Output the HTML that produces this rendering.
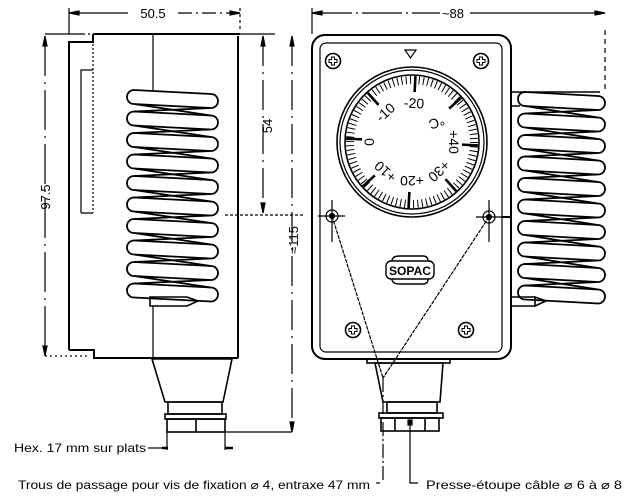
<!DOCTYPE html>
<html><head><meta charset="utf-8"><style>
html,body{margin:0;padding:0;background:#fff}
svg{display:block}
text{font-family:"Liberation Sans Narrow","Liberation Sans",sans-serif;fill:#000}
</style></head><body>
<svg width="640" height="501" viewBox="0 0 640 501" xmlns="http://www.w3.org/2000/svg">
<defs>
<path id="cl" d="M134 0 L211 4 A7 7 0 0 1 211 18 L134 14 A7 7 0 0 1 134 0 M134 14 L211 25.5 M211 18 L134 21.5"/>
<path id="cr" d="M525 0 L598 4 A7 7 0 0 1 598 18 L525 14 A7 7 0 0 1 525 0 M525 14 L598 25.5 M598 18 L525 21.5"/>
<path id="cl2" d="M134 0 L211 4 A7 7 0 0 1 211 18 L134 14 A7 7 0 0 1 134 0"/>
<path id="cr2" d="M525 0 L598 4 A7 7 0 0 1 598 18 L525 14 A7 7 0 0 1 525 0"/>
<line id="mt" x1="412" y1="92" x2="412" y2="76" stroke-width="2.6"/>
<g id="sc"><circle cx="0" cy="0" r="7.5" stroke-width="1.6"/><path d="M-1.5 -4 h3 v2.5 h2.5 v3 h-2.5 v2.5 h-3 v-2.5 h-2.5 v-3 h2.5z" stroke-width="1"/></g>
</defs>
<g stroke="#000" fill="none" stroke-width="1.2">
<line x1="69" y1="13" x2="128" y2="13"/><line x1="178" y1="13" x2="240" y2="13" stroke-dasharray="14 4 2 4"/>
<path d="M69 13 l10 -2 v4z M240 13 l-10 -2 v4z" fill="#000"/>
<line x1="69" y1="8" x2="69" y2="34"/><line x1="240" y1="8" x2="240" y2="30" stroke-dasharray="3 3"/>
<line x1="45" y1="34" x2="275" y2="34" stroke-dasharray="40 3 2 3"/>
<line x1="45" y1="36" x2="45" y2="355" stroke-dasharray="40 6 2 6"/>
<path d="M45 36 l-2 10 h4z M45 356 l-2 -10 h4z" fill="#000"/>
<line x1="45" y1="356" x2="90" y2="356" stroke-dasharray="2 3"/>
<line x1="263" y1="36" x2="263" y2="213" stroke-dasharray="30 6 2 6"/>
<path d="M263 36 l-2 10 h4z M263 213 l-2 -10 h4z" fill="#000"/>
<line x1="225" y1="215" x2="305" y2="215" stroke-dasharray="3 2"/>
<line x1="292" y1="36" x2="292" y2="423" stroke-dasharray="30 6 2 6"/>
<path d="M292 36 l-2 10 h4z M292 432 l-2 -10 h4z" fill="#000"/>
<line x1="226" y1="432" x2="292" y2="432"/>
<g stroke-width="2">
<path d="M93 34 H240 M69 350 V42 H93 V34 M69 350 H94 V358 H238 M238 36 V358"/>
</g>
<path d="M81 213 V70 H93 M81 213 H93"/>
<line x1="93" y1="40" x2="93" y2="213" stroke-dasharray="2 2"/>
<line x1="153" y1="34" x2="153" y2="90"/>
<path d="M153 306 V358"/>
<path d="M150 297 H187 L198 301 L187 306 H150 Z" stroke-width="1.6"/>
<g stroke-width="1.6">
<path d="M152 359 H232 L223 402 H165 Z"/>
<rect x="168" y="402" width="54" height="12"/>
<rect x="165" y="414" width="61" height="5"/>
<rect x="167" y="419" width="58" height="13"/>
<line x1="196" y1="419" x2="196" y2="432"/>
</g>
<line x1="167" y1="432" x2="167" y2="450"/><line x1="225" y1="432" x2="225" y2="450"/>
<path d="M162 448 h6 M225 448 h8" stroke-width="2.4"/>
<line x1="148" y1="448" x2="162" y2="448"/>
<line x1="312" y1="13" x2="440" y2="13" stroke-dasharray="40 4 2 4"/><line x1="470" y1="13" x2="605" y2="13"/>
<path d="M312 13 l10 -2 v4z M605 13 l-10 -2 v4z" fill="#000"/>
<line x1="312" y1="8" x2="312" y2="34"/><line x1="605" y1="30" x2="605" y2="92" stroke-dasharray="5 4"/>
<rect x="312" y="35" width="199" height="324" rx="13" stroke-width="2"/>
<rect x="320" y="43" width="182" height="309" rx="6"/>
<path d="M405 50 h11 l-5.5 8z"/>
</g>
<g stroke="#000" fill="none">
<use href="#sc" x="333" y="61"/><use href="#sc" x="481" y="61"/>
<use href="#sc" x="353" y="330"/><use href="#sc" x="466" y="330"/>
</g>
<g stroke="#000" fill="none" stroke-width="1.2">
<circle cx="412" cy="142" r="75" stroke-width="1.6"/>
<circle cx="412" cy="142" r="72"/>
<circle cx="412" cy="142" r="67" stroke-width="1.6"/>
<circle cx="412" cy="142" r="62" stroke-width="8" stroke-dasharray="1 3.33"/>
<use href="#mt" transform="rotate(3 412 142)"/>
<use href="#mt" transform="rotate(48 412 142)"/>
<use href="#mt" transform="rotate(93 412 142)"/>
<use href="#mt" transform="rotate(138 412 142)"/>
<use href="#mt" transform="rotate(183 412 142)"/>
<use href="#mt" transform="rotate(228 412 142)"/>
<use href="#mt" transform="rotate(273 412 142)"/>
<use href="#mt" transform="rotate(318 412 142)"/>
<circle cx="332" cy="216" r="6"/><circle cx="332" cy="216" r="2.5" fill="#000"/>
<circle cx="489" cy="217" r="6"/><circle cx="489" cy="217" r="2.5" fill="#000"/>
<path d="M318 216 H345 M332 200 V242 M476 217 H502 M489 200 V242"/>
<line x1="502" y1="217" x2="512" y2="217" stroke-width="2"/>
<path d="M332 216 L383 378 M489 217 L383 378" stroke-dasharray="4 1"/>
<line x1="383" y1="378" x2="383" y2="483" stroke-dasharray="14 3 2 3"/>
<path d="M376 483 h4" />
<path d="M392 261 Q392 256 400 256 H423 Q428 256 428 261 M392 279 Q392 284 400 284 H423 Q428 284 428 279" stroke-width="1.4"/>
<rect x="386" y="261" width="48" height="18" rx="5" stroke-width="1.4"/>
<g stroke-width="1.6">
<rect x="367" y="359" width="83" height="4"/>
<path d="M375 363 H443 L440 402 H383 Z"/>
<rect x="387" y="402" width="50" height="11"/>
<rect x="379" y="413" width="64" height="5"/>
<rect x="381" y="418" width="58" height="13"/>
<path d="M395 418 V431 M425 418 V431"/>
</g>
<rect x="408" y="420" width="4" height="5" fill="#000"/>
<path d="M410 425 V483 H418"/>
<path d="M511 92 H600 M511 106 H520" stroke-width="1.6"/>
<path d="M511 297 H535 M511 306 H535 M535 297 L546 301 L535 306 Z" stroke-width="1.6"/>
<g stroke-width="1.8">
<use href="#cl" y="90"/><use href="#cl" y="111.5"/><use href="#cl" y="133"/><use href="#cl" y="154.5"/><use href="#cl" y="176"/>
<use href="#cl" y="197.5"/><use href="#cl" y="219"/><use href="#cl" y="240.5"/><use href="#cl" y="262"/><use href="#cl2" y="283.5"/>
<use href="#cr" y="92"/><use href="#cr" y="113.5"/><use href="#cr" y="135"/><use href="#cr" y="156.5"/><use href="#cr" y="178"/>
<use href="#cr" y="199.5"/><use href="#cr" y="221"/><use href="#cr" y="242.5"/><use href="#cr" y="264"/><use href="#cr2" y="285.5"/>
</g>
</g>
<text x="153" y="18" font-size="13" text-anchor="middle">50.5</text>
<text x="453" y="18" font-size="13" text-anchor="middle">~88</text>
<text font-size="13" text-anchor="middle" transform="translate(272,126) rotate(-90)">54</text>
<text font-size="13" text-anchor="middle" transform="translate(50,197) rotate(-90)">97.5</text>
<text font-size="13" text-anchor="middle" transform="translate(298,240) rotate(-90)">≈115</text>
<text x="14" y="452" font-size="12" textLength="132" lengthAdjust="spacingAndGlyphs">Hex. 17 mm sur plats</text>
<text x="18" y="489" font-size="12" textLength="352" lengthAdjust="spacingAndGlyphs">Trous de passage pour vis de fixation ⌀ 4, entraxe 47 mm</text>
<text x="426" y="489" font-size="12" textLength="196" lengthAdjust="spacingAndGlyphs">Presse-étoupe câble ⌀ 6 à ⌀ 8</text>
<text x="389" y="275" font-size="12" font-weight="bold" textLength="42" lengthAdjust="spacingAndGlyphs">SOPAC</text>
<g font-size="14" text-anchor="middle">
<text transform="translate(412,142) rotate(3) translate(0,-34)">-20</text>
<text transform="translate(412,142) rotate(-42) translate(0,-35)">-10</text>
<text transform="translate(412,142) rotate(-90) translate(0,-38)">0</text>
<text transform="translate(412,142) rotate(-138) translate(0,-35)">+10</text>
<text transform="translate(412,142) rotate(180) translate(0,-34)">+20</text>
<text transform="translate(412,142) rotate(137) translate(0,-35)">+30</text>
<text transform="translate(412,142) rotate(90) translate(0,-37)">+40</text>
<text transform="translate(435,118) rotate(160)">°C</text>
</g>
</svg>
</body></html>
